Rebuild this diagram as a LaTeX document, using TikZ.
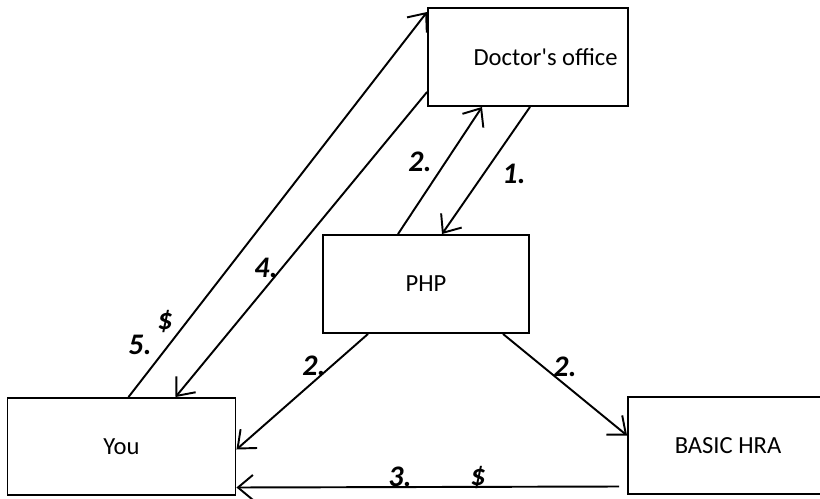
\documentclass[tikz,border=0pt]{standalone}
\usepackage{fontspec}
\setmainfont{Carlito}
\usetikzlibrary{arrows.meta}
\usetikzlibrary{calc}

\begin{document}
\begin{tikzpicture}[x=0.02cm,y=-0.02cm,
  box/.style={draw,line width=1.1pt,minimum width=4cm,minimum height=1.96cm,font=\fontsize{14}{16}\selectfont},
  hand/.style={font=\fontsize{17}{19}\selectfont\bfseries\itshape},
  link/.style={line width=1.1pt,-{Straight Barb[length=3mm,width=5mm]}}]
\clip (0,0) rectangle (820,499);
\fill[white] (0,0) rectangle (820,499);

\node[box] (office) at (528,57) {\hspace*{20pt}Doctor\textquotesingle s office};
\node[box,minimum width=4.12cm] (php) at (426,284) {PHP};
\node[box,minimum width=4.56cm,minimum height=1.94cm] (you) at (121.5,446.5) {You};
\node[box,minimum height=1.94cm] (hra) at (728,445.5) {BASIC HRA};

\draw[link] ($(you.north)+(7,0)$) -- ($(office.west)+(0,-45)$);
\draw[link] ($(office.west)+(0,35)$) -- ($(you.north)+(54,0)$);
\draw[link] ($(php.north)+(-28,0)$) -- ($(office.south)+(-46,0)$);
\draw[link] ($(office.south)+(2,0)$) -- ($(php.north)+(16,0)$);
\draw[link] ($(php.south)+(-58,0)$) -- ($(you.east)+(0,3)$);
\draw[link] ($(php.south)+(77,0)$) -- ($(hra.west)+(0,-10)$);
\draw[link] ($(hra.west)+(-8,41)$) -- ($(you.east)+(0,41)$);

% step numbers
\node[hand] (n5) at (140,345) {5.};
\node[hand] (d5) at (165,322) {\$};
\node[hand] (n4) at (266,268) {4.};
\node[hand] (n2a) at (420,162) {2.};
\node[hand] (n1) at (514,174) {1.};
\node[hand] (n2b) at (314,366) {2.};
\node[hand] (n2c) at (565,367) {2.};
\node[hand] (n3) at (400,477) {3.};
\node[hand] (d3) at (478,478) {\$};
\end{tikzpicture}
\end{document}
